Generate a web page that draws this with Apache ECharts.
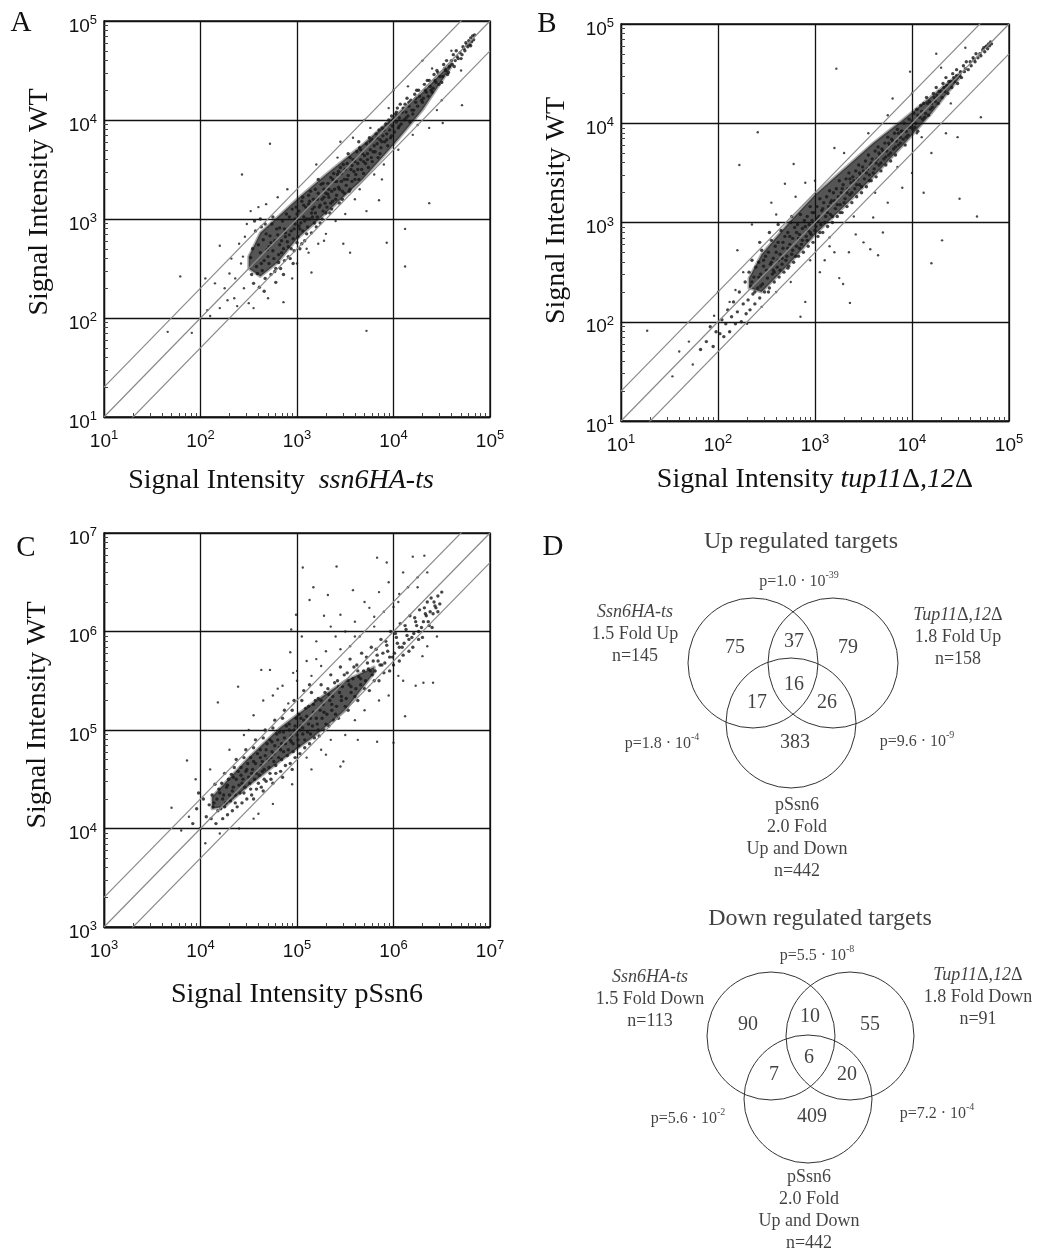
<!DOCTYPE html>
<html>
<head>
<meta charset="utf-8">
<script src="https://cdn.jsdelivr.net/npm/echarts@6/dist/echarts.min.js"></script>
<style>
  html, body { margin: 0; background: #fff; }
  #chart { width: 1037px; height: 1248px; }
</style>
</head>
<body>
<div id="chart"></div>
<script>
// scatter points as log10 values [x, y]
// core = the dense band along the diagonal, halo = the scattered dots around it
const coreA = [
    [2.52,2.61],[2.55,2.35],[2.57,2.88],[2.58,2.52],[2.6,2.74],[2.53,2.44],[2.56,2.98],
    [2.61,2.31],[2.62,2.66],[2.63,2.92],[2.64,2.48],[2.65,2.79],[2.66,2.58],[2.67,2.4],[2.68,2.85],[2.69,2.69],[2.62,3.0],[2.66,2.27],
    [2.71,2.55],[2.72,2.83],[2.73,2.44],[2.74,2.95],[2.75,2.68],[2.76,2.6],[2.77,2.78],[2.78,2.5],[2.79,2.9],[2.71,2.72],[2.75,3.02],[2.78,2.36],
    [2.81,2.64],[2.82,2.91],[2.83,2.5],[2.84,2.78],[2.85,2.98],[2.86,2.7],[2.87,2.58],[2.88,2.86],[2.89,3.05],[2.82,2.74],[2.86,2.44],[2.88,2.82],
    [2.91,2.72],[2.92,3.02],[2.93,2.6],[2.94,2.88],[2.95,3.1],[2.96,2.8],[2.97,2.68],[2.98,2.95],[2.99,3.12],[2.92,2.84],[2.96,2.55],[2.98,3.0],
    [3.01,2.82],[3.02,3.08],[3.03,2.7],[3.04,2.96],[3.05,3.18],[3.06,2.88],[3.07,3.02],[3.08,2.78],[3.09,3.12],[3.02,2.93],[3.06,3.22],[3.08,2.98],
    [3.11,2.92],[3.12,3.15],[3.13,3.0],[3.14,3.28],[3.15,2.86],[3.16,3.1],[3.17,3.2],[3.18,2.96],[3.19,3.06],[3.12,3.24],[3.16,3.02],[3.19,3.3],
    [3.21,3.02],[3.22,3.26],[3.23,3.12],[3.24,2.96],[3.25,3.35],[3.26,3.2],[3.27,3.08],[3.28,3.3],[3.29,3.16],[3.22,3.4],[3.26,3.0],[3.28,3.22],
    [3.31,3.12],[3.32,3.36],[3.33,3.22],[3.34,3.06],[3.35,3.42],[3.36,3.28],[3.37,3.18],[3.38,3.46],[3.39,3.3],[3.32,3.25],[3.36,3.1],[3.39,3.38],
    [3.41,3.24],[3.42,3.45],[3.43,3.32],[3.44,3.16],[3.45,3.52],[3.46,3.38],[3.47,3.28],[3.48,3.55],[3.49,3.4],[3.43,3.48],[3.47,3.2],
    [3.51,3.34],[3.52,3.56],[3.53,3.44],[3.54,3.28],[3.55,3.62],[3.56,3.5],[3.57,3.38],[3.58,3.6],[3.59,3.48],[3.53,3.66],
    [3.61,3.45],[3.62,3.68],[3.63,3.56],[3.64,3.4],[3.65,3.72],[3.66,3.6],[3.67,3.5],[3.68,3.66],[3.69,3.58],[3.64,3.78],
    [3.71,3.56],[3.72,3.76],[3.73,3.66],[3.74,3.52],[3.75,3.82],[3.76,3.7],[3.77,3.62],[3.78,3.8],[3.79,3.68],
    [3.81,3.68],[3.82,3.86],[3.83,3.76],[3.84,3.62],[3.85,3.9],[3.86,3.8],[3.87,3.72],[3.88,3.92],[3.89,3.84],
    [3.91,3.78],[3.92,3.96],[3.93,3.86],[3.94,3.74],[3.95,4.0],[3.96,3.9],[3.97,3.82],[3.98,4.04],[3.99,3.94],
    [4.01,3.88],[4.02,4.06],[4.03,3.98],[4.04,4.12],[4.05,3.92],[4.06,4.02],[4.07,4.16],[4.08,3.96],[4.09,4.08],
    [4.11,4.0],[4.12,4.16],[4.13,4.08],[4.14,4.22],[4.15,4.04],[4.16,4.14],[4.17,3.98],[4.18,4.2],[4.19,4.1],
    [4.21,4.1],[4.22,4.26],[4.23,4.18],[4.24,4.3],[4.25,4.14],[4.27,4.24],[4.29,4.2],
    [4.31,4.22],[4.32,4.36],[4.34,4.28],[4.35,4.4],[4.36,4.24],[4.38,4.34],[4.39,4.3],
    [4.41,4.32],[4.42,4.46],[4.44,4.38],[4.45,4.5],[4.47,4.36],[4.48,4.44],
    [4.51,4.44],[4.52,4.56],[4.54,4.5],[4.55,4.6],[4.57,4.48],[4.58,4.54],
    [4.61,4.56],[4.62,4.66],[4.64,4.6],[4.65,4.7],[4.67,4.62],[4.69,4.68],
    [4.71,4.66],[4.72,4.74],[4.74,4.7],[4.75,4.78],[4.77,4.74],[4.78,4.8],[4.79,4.76],[4.8,4.83],[4.81,4.79],[4.82,4.85],[4.83,4.81],[4.84,4.86],
    [2.54,2.7],[2.59,2.45],[2.63,2.55],[2.67,2.95],[2.7,2.62],[2.73,2.76],[2.77,2.47],[2.8,2.84],[2.81,2.56],[2.84,2.66],
    [2.87,2.9],[2.9,2.77],[2.91,2.62],[2.94,2.7],[2.97,2.9],[3.0,2.76],[3.0,3.05],[3.03,2.9],[3.05,2.75],[3.07,3.14],
    [3.1,2.85],[3.1,3.0],[3.13,3.18],[3.15,3.06],[3.18,3.12],[3.2,2.92],[3.21,3.2],[3.24,3.14],[3.27,3.36],[3.3,3.06],
    [3.3,3.26],[3.33,3.3],[3.35,3.16],[3.37,3.4],[3.4,3.2],[3.41,3.38],[3.44,3.3],[3.46,3.46],[3.49,3.26],[3.5,3.5],
    [3.52,3.4],[3.55,3.3],[3.57,3.54],[3.6,3.4],[3.6,3.58],[3.63,3.5],[3.66,3.7],[3.69,3.46],[3.7,3.64],[3.73,3.6],
    [3.76,3.78],[3.78,3.58],[3.8,3.74],[3.83,3.82],[3.86,3.66],[3.88,3.78],[3.9,3.9],[3.93,3.8],[3.96,3.96],[3.98,3.84],
    [4.0,4.0],[4.03,4.08],[4.06,3.94],[4.1,4.12],[4.13,4.02],[4.16,4.18],[4.2,4.06],[4.23,4.22],[4.26,4.3],[4.3,4.18],
    [4.33,4.3],[4.37,4.4],[4.4,4.28],[4.43,4.4],[4.46,4.48],[4.5,4.38],[4.53,4.52],[4.56,4.46],[4.6,4.6],[4.63,4.54],
    [4.66,4.64],[4.7,4.62],[4.73,4.72],[4.76,4.76],[4.8,4.75]
];
const haloA = [
    [2.3,2.45],[2.35,2.2],[2.4,2.75],[2.42,2.55],[2.45,2.3],[2.2,2.1],[2.25,2.3],[2.1,2.02],[2.15,2.35],[2.5,2.15],
    [2.48,2.95],[2.44,2.62],[2.38,2.12],[2.32,2.6],[2.05,2.4],[2.72,3.76],[2.43,3.45],[1.79,2.42],[1.66,1.86],[1.91,1.85],
    [3.72,1.87],[4.12,2.9],[4.12,2.52],[4.37,3.16],[4.71,4.15],[3.55,2.66],[3.93,2.76],[3.48,2.75],[3.15,2.46],[2.86,2.16],
    [2.07,2.08],[2.2,2.73],[4.51,3.97],[4.37,3.92],[3.85,3.19],[3.72,3.08],[2.6,3.12],[2.9,3.3],[3.2,3.55],[3.45,3.78],
    [3.7,4.0],[4.0,4.3],[4.3,4.6],[3.1,2.7],[3.4,2.98],[3.6,3.2],[3.9,3.55],[4.2,3.85],[4.5,4.2],[4.7,4.5],
    [2.55,2.1],[2.7,2.2],[3.0,2.55],[3.3,2.85],[3.65,3.3],[3.8,3.45],[2.46,2.82],[2.36,2.4],[2.28,2.18],[2.52,3.08],
    [2.68,3.15],[2.8,3.22],[2.95,2.4],[3.12,2.66],[3.28,2.78],[3.42,3.62],[3.58,3.82],[3.76,3.92],[3.95,4.12],[4.15,4.34],
    [4.4,4.52],[4.6,4.7],[4.45,4.1],[4.25,3.95],[4.05,3.7],[3.88,3.4],[3.5,3.05],[3.22,2.75]
];

const coreB = [
    [1.82,1.72],[1.88,1.8],[1.92,1.95],[1.95,1.75],[1.98,1.9],[2.02,1.88],[2.04,2.02],[2.06,1.85],[2.08,1.98],[2.1,2.12],
    [2.12,1.9],[2.14,2.05],[2.16,2.2],[2.18,1.98],[2.2,2.1],[2.22,2.3],[2.24,2.0],[2.26,2.18],[2.28,2.4],[2.29,2.08],
    [2.31,2.22],[2.32,2.5],[2.33,2.12],[2.34,2.36],[2.35,2.62],[2.36,2.28],[2.37,2.45],[2.38,2.18],[2.39,2.55],
    [2.41,2.34],[2.42,2.6],[2.43,2.24],[2.44,2.48],[2.45,2.72],[2.46,2.38],[2.47,2.56],[2.48,2.3],[2.49,2.66],[2.43,2.8],
    [2.51,2.44],[2.52,2.7],[2.53,2.34],[2.54,2.58],[2.55,2.82],[2.56,2.48],[2.57,2.64],[2.58,2.4],[2.59,2.76],[2.53,2.9],[2.57,2.52],
    [2.61,2.55],[2.62,2.8],[2.63,2.45],[2.64,2.68],[2.65,2.92],[2.66,2.58],[2.67,2.74],[2.68,2.5],[2.69,2.86],[2.62,2.98],[2.66,2.64],
    [2.71,2.66],[2.72,2.9],[2.73,2.56],[2.74,2.78],[2.75,3.0],[2.76,2.68],[2.77,2.84],[2.78,2.6],[2.79,2.95],[2.72,2.74],[2.76,3.06],
    [2.81,2.76],[2.82,2.98],[2.83,2.66],[2.84,2.88],[2.85,3.08],[2.86,2.78],[2.87,2.94],[2.88,2.7],[2.89,3.02],[2.83,2.84],
    [2.91,2.86],[2.92,3.06],[2.93,2.76],[2.94,2.98],[2.95,3.16],[2.96,2.88],[2.97,3.02],[2.98,2.8],[2.99,3.1],[2.93,2.92],
    [3.01,2.96],[3.02,3.16],[3.03,2.86],[3.04,3.06],[3.05,3.24],[3.06,2.98],[3.07,3.12],[3.08,2.9],[3.09,3.2],[3.03,3.02],
    [3.11,3.06],[3.12,3.26],[3.13,2.96],[3.14,3.16],[3.15,3.32],[3.16,3.08],[3.17,3.22],[3.18,3.0],[3.19,3.3],
    [3.21,3.14],[3.22,3.34],[3.23,3.06],[3.24,3.26],[3.25,3.42],[3.26,3.18],[3.27,3.3],[3.28,3.1],[3.29,3.38],
    [3.31,3.24],[3.32,3.44],[3.33,3.16],[3.34,3.34],[3.35,3.5],[3.36,3.28],[3.37,3.4],[3.38,3.2],[3.39,3.46],
    [3.41,3.34],[3.42,3.52],[3.43,3.26],[3.44,3.44],[3.45,3.58],[3.46,3.38],[3.47,3.48],[3.48,3.3],[3.49,3.56],
    [3.51,3.44],[3.52,3.62],[3.53,3.36],[3.54,3.54],[3.55,3.68],[3.56,3.48],[3.57,3.58],[3.58,3.42],[3.59,3.64],
    [3.61,3.54],[3.62,3.72],[3.63,3.46],[3.64,3.64],[3.65,3.76],[3.66,3.58],[3.67,3.68],[3.68,3.52],[3.69,3.74],
    [3.71,3.64],[3.72,3.8],[3.73,3.58],[3.74,3.72],[3.75,3.86],[3.76,3.68],[3.77,3.78],[3.78,3.62],[3.79,3.84],
    [3.81,3.74],[3.82,3.9],[3.83,3.68],[3.84,3.82],[3.85,3.94],[3.86,3.78],[3.88,3.86],[3.89,3.92],
    [3.91,3.84],[3.92,4.0],[3.93,3.78],[3.94,3.92],[3.96,3.88],[3.97,4.04],[3.99,3.96],
    [4.01,3.94],[4.02,4.1],[4.04,4.0],[4.05,4.14],[4.06,3.92],[4.08,4.06],[4.09,4.18],
    [4.11,4.04],[4.12,4.2],[4.14,4.1],[4.15,4.26],[4.17,4.08],[4.18,4.22],[4.19,4.14],
    [4.21,4.16],[4.22,4.3],[4.24,4.22],[4.25,4.36],[4.27,4.2],[4.28,4.32],
    [4.31,4.26],[4.32,4.4],[4.34,4.32],[4.35,4.46],[4.37,4.3],[4.38,4.42],
    [4.41,4.36],[4.42,4.5],[4.44,4.42],[4.46,4.54],[4.47,4.4],[4.49,4.48],
    [4.51,4.46],[4.53,4.58],[4.54,4.52],[4.56,4.62],[4.58,4.54],
    [4.61,4.58],[4.63,4.66],[4.65,4.62],[4.66,4.7],[4.68,4.66],
    [4.71,4.68],[4.73,4.74],[4.75,4.72],[4.76,4.77],[4.78,4.75],[4.79,4.8],[4.8,4.78],[4.81,4.82],[4.82,4.8],
    [2.35,2.4],[2.38,2.3],[2.42,2.45],[2.44,2.36],[2.47,2.62],[2.5,2.52],[2.52,2.3],[2.55,2.6],[2.58,2.5],[2.6,2.7],
    [2.62,2.62],[2.64,2.52],[2.67,2.8],[2.7,2.62],[2.72,2.54],[2.74,2.86],[2.77,2.72],[2.8,2.66],[2.81,2.9],[2.84,2.74],
    [2.87,2.82],[2.9,2.96],[2.92,2.82],[2.95,2.9],[2.97,3.1],[3.0,2.92],[3.02,3.04],[3.05,2.9],[3.08,3.14],[3.1,3.0],
    [3.13,3.1],[3.16,3.2],[3.18,3.06],[3.2,3.22],[3.23,3.18],[3.26,3.1],[3.28,3.34],[3.3,3.2],[3.33,3.3],[3.36,3.44],
    [3.38,3.3],[3.4,3.42],[3.43,3.38],[3.46,3.5],[3.48,3.36],[3.5,3.52],[3.53,3.5],[3.56,3.42],[3.58,3.6],[3.6,3.5],
    [3.63,3.6],[3.66,3.7],[3.68,3.6],[3.7,3.72],[3.73,3.66],[3.76,3.8],[3.78,3.7],[3.8,3.82],[3.83,3.76],[3.86,3.9],
    [3.88,3.8],[3.9,3.92],[3.94,3.86],[3.97,3.96],[4.0,4.02],[4.03,3.96],[4.06,4.08],[4.1,4.12],[4.13,4.06],[4.16,4.2],
    [4.2,4.2],[4.23,4.26],[4.26,4.28],[4.3,4.32],[4.33,4.36],[4.36,4.38],[4.4,4.42],[4.43,4.46],[4.46,4.48],[4.5,4.52],
    [4.55,4.55],[4.6,4.62],[4.64,4.64],[4.7,4.7],[4.74,4.76],[4.77,4.78]
];
const haloB = [
    [1.27,1.91],[1.53,1.45],[1.74,1.57],[1.6,1.7],[1.7,1.8],[3.22,4.55],[2.41,3.91],[2.22,3.58],[2.78,3.59],[2.69,3.39],
    [3.98,4.52],[4.12,3.3],[4.49,3.24],[4.67,3.06],[4.31,2.82],[4.2,2.59],[3.36,2.19],[3.29,2.38],[3.25,2.44],[3.65,2.67],
    [3.57,2.73],[4.71,4.06],[4.47,3.86],[3.1,2.62],[3.2,2.7],[3.42,2.88],[3.5,2.8],[3.05,2.5],[3.6,3.05],[3.75,3.2],
    [3.9,3.35],[4.0,3.5],[4.2,3.7],[4.35,3.9],[2.55,3.2],[2.35,2.98],[2.2,2.72],[2.0,2.3],[2.9,2.2],[2.85,2.05],
    [3.15,2.85],[3.35,2.7],[3.7,2.9],[4.05,3.9],[4.25,4.7],[3.8,4.25],[3.2,3.75],[2.9,3.4],[2.26,2.5],[2.18,2.32],
    [2.12,2.2],[1.96,2.06],[2.3,1.98],[2.45,2.15],[2.6,2.3],[2.75,2.4],[2.95,2.62],[3.15,2.76],[3.4,3.06],[3.62,3.3],
    [3.85,3.56],[4.1,3.86],[4.4,4.2],[2.6,3.08],[2.8,3.26],[3.0,3.42],[3.3,3.7],[3.55,3.9],[3.75,4.08],[4.0,4.3],
    [4.3,4.56],[4.55,4.76]
];

const coreC = [
    [3.92,4.05],[3.96,4.2],[4.0,4.0],[4.03,4.3],[4.06,4.12],[4.09,4.24],[3.98,4.36],
    [4.11,4.1],[4.12,4.34],[4.13,4.22],[4.15,4.45],[4.16,4.05],[4.17,4.3],[4.18,4.18],[4.19,4.4],
    [4.21,4.2],[4.22,4.46],[4.23,4.1],[4.24,4.34],[4.25,4.56],[4.26,4.26],[4.27,4.42],[4.28,4.14],[4.29,4.5],[4.23,4.3],
    [4.31,4.28],[4.32,4.55],[4.33,4.18],[4.34,4.42],[4.35,4.62],[4.36,4.34],[4.37,4.5],[4.38,4.22],[4.39,4.58],[4.33,4.38],[4.37,4.7],
    [4.41,4.36],[4.42,4.62],[4.43,4.26],[4.44,4.5],[4.45,4.72],[4.46,4.42],[4.47,4.58],[4.48,4.3],[4.49,4.66],[4.43,4.46],[4.47,4.8],
    [4.51,4.46],[4.52,4.72],[4.53,4.34],[4.54,4.6],[4.55,4.82],[4.56,4.5],[4.57,4.66],[4.58,4.4],[4.59,4.76],[4.53,4.56],[4.57,4.9],[4.55,4.3],
    [4.61,4.54],[4.62,4.8],[4.63,4.42],[4.64,4.68],[4.65,4.92],[4.66,4.6],[4.67,4.74],[4.68,4.48],[4.69,4.86],[4.63,4.64],[4.67,5.0],[4.65,4.38],
    [4.71,4.62],[4.72,4.9],[4.73,4.5],[4.74,4.78],[4.75,5.02],[4.76,4.68],[4.77,4.84],[4.78,4.56],[4.79,4.96],[4.73,4.72],[4.77,5.1],[4.75,4.46],
    [4.81,4.72],[4.82,4.98],[4.83,4.58],[4.84,4.86],[4.85,5.12],[4.86,4.78],[4.87,4.92],[4.88,4.64],[4.89,5.04],[4.83,4.8],[4.87,5.2],[4.85,4.52],
    [4.91,4.8],[4.92,5.06],[4.93,4.66],[4.94,4.94],[4.95,5.2],[4.96,4.86],[4.97,5.0],[4.98,4.72],[4.99,5.12],[4.93,4.9],[4.97,5.3],[4.95,4.6],
    [5.01,4.9],[5.02,5.16],[5.03,4.76],[5.04,5.04],[5.05,5.3],[5.06,4.96],[5.07,5.1],[5.08,4.82],[5.09,5.22],[5.03,5.0],[5.07,5.4],
    [5.11,4.98],[5.12,5.24],[5.13,4.86],[5.14,5.12],[5.15,5.38],[5.16,5.04],[5.17,5.18],[5.18,4.92],[5.19,5.3],[5.13,5.46],
    [5.21,5.06],[5.22,5.32],[5.23,4.94],[5.24,5.2],[5.25,5.46],[5.26,5.12],[5.27,5.26],[5.28,5.0],[5.29,5.38],
    [5.31,5.16],[5.32,5.42],[5.33,5.04],[5.34,5.3],[5.35,5.56],[5.36,5.2],[5.37,5.34],[5.38,5.1],[5.39,5.48],
    [5.41,5.24],[5.42,5.5],[5.43,5.12],[5.44,5.38],[5.45,5.64],[5.46,5.3],[5.47,5.44],[5.49,5.56],
    [5.51,5.32],[5.52,5.58],[5.53,5.2],[5.54,5.46],[5.55,5.72],[5.56,5.38],[5.58,5.52],[5.59,5.64],
    [5.61,5.42],[5.62,5.66],[5.63,5.3],[5.64,5.54],[5.66,5.46],[5.67,5.78],[5.69,5.6],
    [5.71,5.5],[5.72,5.74],[5.74,5.62],[5.75,5.4],[5.77,5.84],[5.78,5.56],[5.79,5.7],
    [5.81,5.6],[5.82,5.82],[5.84,5.7],[5.85,5.5],[5.87,5.92],[5.88,5.66],[5.89,5.78],
    [5.91,5.68],[5.92,5.9],[5.94,5.8],[5.96,5.6],[5.97,6.0],[5.99,5.74],
    [6.01,5.78],[6.02,5.98],[6.04,5.88],[6.06,5.7],[6.07,6.08],[6.09,5.84],
    [6.11,5.88],[6.12,6.06],[6.14,5.96],[6.16,5.8],[6.17,6.16],[6.19,5.94],
    [6.21,5.98],[6.22,6.14],[6.24,6.06],[6.26,5.92],[6.27,6.22],[6.29,6.04],
    [6.31,6.1],[6.32,6.24],[6.34,6.16],[6.35,6.3],[6.37,6.06],[6.38,6.2],[6.39,6.34],
    [6.41,6.18],[6.42,6.3],[6.44,6.24],[6.46,6.36],[6.48,6.28],[6.5,6.4],
    [4.14,4.26],[4.2,4.36],[4.25,4.22],[4.28,4.44],[4.3,4.34],[4.34,4.52],[4.36,4.26],[4.4,4.44],[4.42,4.54],[4.45,4.36],
    [4.48,4.6],[4.5,4.52],[4.52,4.4],[4.55,4.68],[4.58,4.56],[4.6,4.46],[4.62,4.72],[4.64,4.58],[4.66,4.5],[4.68,4.8],
    [4.7,4.7],[4.72,4.56],[4.74,4.88],[4.76,4.76],[4.78,4.64],[4.8,4.9],[4.82,4.82],[4.84,4.7],[4.86,4.98],[4.88,4.86],
    [4.9,4.74],[4.92,5.0],[4.94,4.88],[4.96,4.78],[4.98,5.04],[5.0,4.95],[5.02,4.84],[5.04,5.12],[5.06,5.02],[5.08,4.9],
    [5.1,5.14],[5.12,5.06],[5.14,4.96],[5.17,5.26],[5.2,5.12],[5.22,5.0],[5.25,5.3],[5.28,5.18],[5.3,5.06],[5.33,5.36],
    [5.36,5.26],[5.4,5.16],[5.43,5.44],[5.46,5.34],[5.5,5.24],[5.53,5.5],[5.56,5.44],[5.6,5.34],[5.63,5.6],[5.66,5.52],
    [5.7,5.42],[5.73,5.68],[5.76,5.6],[5.8,5.5],[5.83,5.76],[5.86,5.66],[5.9,5.58],[5.93,5.86],[5.96,5.74],[6.0,5.66],
    [6.03,5.94],[6.06,5.84],[6.1,5.76],[6.13,6.02],[6.16,5.92],[6.2,5.84],[6.23,6.1],[6.26,6.0],[6.3,5.94],[6.33,6.18],
    [6.36,6.1],[6.4,6.04],[6.43,6.26],[6.46,6.2]
];
const haloC = [
    [5.06,6.65],[5.41,6.66],[5.83,6.75],[5.93,6.7],[6.2,6.76],[6.32,6.77],[5.17,6.45],[5.13,6.32],[5.32,6.37],[5.58,6.42],
    [5.75,6.24],[6.06,6.38],[5.28,6.16],[5.45,6.17],[4.99,6.17],[4.93,5.79],[4.96,5.58],[4.91,5.27],[4.72,5.61],[4.63,5.61],
    [4.39,5.44],[4.18,5.28],[3.86,4.69],[3.7,4.21],[5.1,5.7],[5.2,5.9],[5.3,5.8],[5.5,6.0],[5.6,6.1],[5.7,6.3],
    [5.85,6.4],[5.95,6.5],[6.1,6.6],[6.15,6.45],[5.4,5.95],[5.15,5.55],[5.0,5.5],[4.85,5.45],[5.25,5.65],[5.55,5.85],
    [5.65,5.95],[5.8,6.05],[5.9,6.2],[6.0,6.25],[6.25,6.55],[6.35,6.6],[4.55,5.15],[4.75,5.35],[4.45,4.95],[5.35,6.05],
    [5.05,5.95],[4.94,6.02],[6.31,5.48],[6.41,5.48],[6.12,5.14],[6.23,5.45],[5.83,4.88],[5.45,4.63],[5.48,4.68],[5.63,4.9],
    [6.0,4.87],[5.3,4.75],[5.15,4.6],[4.95,4.45],[4.75,4.25],[4.55,4.1],[5.7,5.2],[5.95,5.35],[6.05,5.55],[6.3,5.75],
    [6.45,5.95],[5.5,4.95],[5.25,4.8],[4.6,4.15],[4.4,4.0],[4.2,3.95],[4.05,3.85],[4.65,5.3],[4.8,5.42],[5.0,5.6],
    [5.2,5.72],[5.45,5.82],[5.6,5.95],[5.8,6.15],[6.05,6.3],[6.25,6.45],[4.3,4.8],[4.5,5.0],[5.1,4.72],[5.35,4.9],
    [5.6,5.1],[5.85,5.3],[6.1,5.5],[6.35,5.85],[3.95,4.5],[4.1,4.6],[3.8,3.98],[3.88,4.12]
];

// where the dots merge into a dark mass (log10): x, lower y, upper y
const denseAX = [2.5, 2.62, 2.8, 3.0, 3.3, 3.68, 4.0, 4.3, 4.6];
const denseALo = [2.5, 2.42, 2.56, 2.8, 3.06, 3.4, 3.75, 4.1, 4.54];
const denseAHi = [2.62, 2.86, 3.02, 3.2, 3.45, 3.75, 4.03, 4.28, 4.58];
const denseBX = [2.32, 2.45, 2.75, 3.0, 3.3, 3.6, 3.9, 4.2, 4.5];
const denseBLo = [2.34, 2.3, 2.6, 2.88, 3.16, 3.46, 3.77, 4.1, 4.47];
const denseBHi = [2.44, 2.68, 3.02, 3.28, 3.54, 3.8, 4.03, 4.27, 4.51];
const denseCX = [4.12, 4.25, 4.48, 4.82, 5.17, 5.5, 5.8];
const denseCLo = [4.2, 4.22, 4.42, 4.68, 4.93, 5.2, 5.58];
const denseCHi = [4.32, 4.46, 4.7, 5.02, 5.28, 5.5, 5.64];

// axis ranges and fold-change guide lines (WT = ratio * mutant)
const rangeAB = [1e1, 1e5];
const rangeC = [1e3, 1e7];
const foldRatios = [2, 1, 0.5];

// Venn diagram numbers
const vennUpCounts = [75, 37, 79, 17, 16, 26, 383];
const vennDownCounts = [90, 10, 55, 7, 6, 20, 409];
const vennUpSets = [['Ssn6HA-ts', '1.5 Fold Up', 145], ['Tup11Δ,12Δ', '1.8 Fold Up', 158], ['pSsn6', '2.0 Fold', 442]];
const vennDownSets = [['Ssn6HA-ts', '1.5 Fold Down', 113], ['Tup11Δ,12Δ', '1.8 Fold Down', 91], ['pSsn6', '2.0 Fold', 442]];
const vennUpP = [['1.0', '-39'], ['1.8', '-4'], ['9.6', '-9']];
const vennDownP = [['5.5', '-8'], ['5.6', '-2'], ['7.2', '-4']];

const SERIF = 'Liberation Serif';
const SANS = 'Liberation Sans';
const INK = '#111';

var chart = echarts.init(document.getElementById('chart'));

function toLinear(points) {
    return points.map(([lx, ly]) => [Math.pow(10, lx), Math.pow(10, ly)]);
}

function foldLine(range, r) {
    return [[range[0], range[0] * r], [range[1], range[1] * r]];
}

const tickRich = {
    b: { fontFamily: SANS, fontSize: 19, lineHeight: 22, verticalAlign: 'bottom', color: INK },
    s: { fontFamily: SANS, fontSize: 13, lineHeight: 6, verticalAlign: 'top', color: INK }
};

function logAxis(gridIndex, range, isX, name, nameGap, namePad) {
    return {
        type: 'log',
        logBase: 10,
        gridIndex: gridIndex,
        min: range[0],
        max: range[1],
        splitNumber: 4,
        name: name,
        nameLocation: 'middle',
        nameGap: nameGap,
        nameTextStyle: {
            fontFamily: SERIF, fontSize: 28, color: INK, padding: namePad,
            rich: {
                n: { fontFamily: SERIF, fontSize: 28, color: INK },
                i: { fontFamily: SERIF, fontSize: 28, fontStyle: 'italic', color: INK }
            }
        },
        axisLine: { show: true, lineStyle: { color: INK, width: 1.3 } },
        axisTick: { show: true, inside: true, length: 5, lineStyle: { color: INK } },
        minorTick: { show: true, splitNumber: 9, length: 4, lineStyle: { color: '#444' } },
        splitLine: { show: true, lineStyle: { color: INK, width: 1.3 } },
        axisLabel: {
            margin: isX ? 12 : 7,
            padding: isX ? 0 : [8, 0, 0, 0],
            formatter: v => '{b|10}{s|' + Math.round(Math.log10(v)) + '}',
            rich: tickRich
        }
    };
}

const grids = [
    { left: 104, top: 21, width: 386, height: 396 },
    { left: 621, top: 24, width: 388, height: 397 },
    { left: 104, top: 533, width: 386, height: 394 },
    { left: 0, top: 0, width: 1037, height: 1248 }
].map(g => Object.assign({ show: true, borderColor: INK, borderWidth: 1.3 }, g));
grids[3].show = false;

// hidden page-space axes for the Venn diagrams
const vennX = { type: 'value', gridIndex: 3, min: 0, max: 1037, show: false };
const vennY = { type: 'value', gridIndex: 3, min: 0, max: 1248, inverse: true, show: false };

function scatterSeries(idx, points, size, color) {
    return {
        type: 'scatter',
        xAxisIndex: idx, yAxisIndex: idx,
        symbolSize: size,
        itemStyle: { color: color },
        data: toLinear(points),
        z: 3
    };
}

// dark core of the cloud, as a band between two edges on the log scales
function denseSeries(idx, xs, lo, hi) {
    return {
        type: 'custom',
        xAxisIndex: idx, yAxisIndex: idx,
        clip: true,
        z: 2,
        renderItem: function (params, api) {
            const upper = xs.map((x, i) => api.coord([Math.pow(10, x), Math.pow(10, hi[i])]));
            const lower = xs.map((x, i) => api.coord([Math.pow(10, x), Math.pow(10, lo[i])])).reverse();
            return {
                type: 'polygon',
                shape: { points: upper.concat(lower) },
                style: { fill: 'rgba(20,20,20,0.72)', stroke: 'rgba(20,20,20,0.35)', lineWidth: 3, lineJoin: 'round' }
            };
        },
        data: [[Math.pow(10, xs[0]), Math.pow(10, lo[0])]]
    };
}

function foldSeries(idx, range) {
    return foldRatios.map(r => ({
        type: 'line',
        xAxisIndex: idx, yAxisIndex: idx,
        showSymbol: false,
        clip: true,
        lineStyle: { color: '#8a8a8a', width: 1.2 },
        data: foldLine(range, r),
        z: 4
    }));
}

// Venn layout (page coordinates)
const vennUpCircles = [[753, 663, 65], [833, 663, 65], [791, 723, 65]];
const vennDownCircles = [[771, 1036, 64], [850, 1036, 64], [808, 1099, 64]];
const vennUpCountPos = [[735, 648], [794, 642], [848, 648], [757, 703], [794, 685], [827, 703], [795, 743]];
const vennDownCountPos = [[748, 1025], [810, 1017], [870, 1025], [774, 1075], [809, 1058], [847, 1075], [812, 1117]];
const vennUpSetPos = [[635, 634], [958, 637], [797, 838]];
const vennDownSetPos = [[650, 999], [978, 997], [809, 1210]];
const vennUpPPos = [[799, 580], [662, 742], [917, 740]];
const vennDownPPos = [[817, 954], [688, 1117], [937, 1112]];
const vennTitles = [['Up regulated targets', 801, 542], ['Down regulated targets', 820, 919]];

const circleSeries = {
    type: 'custom',
    xAxisIndex: 3, yAxisIndex: 3,
    renderItem: function (params, api) {
        const c = api.coord([api.value(0), api.value(1)]);
        const r = api.size([api.value(2), 0])[0];
        return {
            type: 'circle',
            shape: { cx: c[0], cy: c[1], r: r },
            style: { fill: 'none', stroke: '#333', lineWidth: 1 }
        };
    },
    data: vennUpCircles.concat(vennDownCircles)
};

function textItem(pos, text) {
    return { value: pos, label: { formatter: text } };
}

// gene names italic, the Δ signs upright
function nameTokens(name) {
    return '{it|' + name.split('Δ').join('}{r|Δ}{it|') + '}';
}

function setText(set, i) {
    const head = i === 2 ? '{r|' + set[0] + '}' : nameTokens(set[0]);
    const lines = [head, '{r|' + set[1] + '}'];
    if (i === 2) lines.push('{r|Up and Down}');
    lines.push('{r|n=' + set[2] + '}');
    return lines.join('\n');
}

function pText(p) {
    return '{p|p=' + p[0] + ' · 10}{ps|' + p[1] + '}';
}

const vennTextData = [];
vennUpCounts.forEach((c, i) => vennTextData.push(textItem(vennUpCountPos[i], '{c|' + c + '}')));
vennDownCounts.forEach((c, i) => vennTextData.push(textItem(vennDownCountPos[i], '{c|' + c + '}')));
vennUpSets.forEach((s, i) => vennTextData.push(textItem(vennUpSetPos[i], setText(s, i))));
vennDownSets.forEach((s, i) => vennTextData.push(textItem(vennDownSetPos[i], setText(s, i))));
vennUpP.forEach((p, i) => vennTextData.push(textItem(vennUpPPos[i], pText(p))));
vennDownP.forEach((p, i) => vennTextData.push(textItem(vennDownPPos[i], pText(p))));
vennTitles.forEach(t => vennTextData.push(textItem([t[1], t[2]], '{t|' + t[0] + '}')));

const vennTextSeries = {
    type: 'scatter',
    xAxisIndex: 3, yAxisIndex: 3,
    symbolSize: 1,
    itemStyle: { color: 'rgba(0,0,0,0)' },
    label: {
        show: true,
        position: 'inside',
        align: 'center',
        verticalAlign: 'middle',
        rich: {
            c: { fontFamily: SERIF, fontSize: 20, color: INK },
            r: { fontFamily: SERIF, fontSize: 18, lineHeight: 22, color: INK },
            it: { fontFamily: SERIF, fontSize: 18, lineHeight: 22, fontStyle: 'italic', color: INK },
            p: { fontFamily: SERIF, fontSize: 16, lineHeight: 20, verticalAlign: 'bottom', color: INK },
            ps: { fontFamily: SERIF, fontSize: 10, lineHeight: 6, verticalAlign: 'top', color: INK },
            t: { fontFamily: SERIF, fontSize: 24, color: INK }
        }
    },
    data: vennTextData,
    z: 5
};

const panelLetters = [['A', 21, 23], ['B', 547, 24], ['C', 26, 548], ['D', 553, 547]];

var option = {
    animation: false,
    backgroundColor: '#fff',
    grid: grids,
    xAxis: [
        logAxis(0, rangeAB, true, '{n|Signal Intensity  }{i|ssn6HA-ts}', 50, [0, 32, 0, 0]),
        logAxis(1, rangeAB, true, '{n|Signal Intensity }{i|tup11}{n|Δ}{i|,12}{n|Δ}', 45, 0),
        logAxis(2, rangeC, true, 'Signal Intensity pSsn6', 54, 0),
        vennX
    ],
    yAxis: [
        logAxis(0, rangeAB, false, 'Signal Intensity WT', 50, [0, 0, 0, 34]),
        logAxis(1, rangeAB, false, 'Signal Intensity WT', 50, [0, 0, 0, 24]),
        logAxis(2, rangeC, false, 'Signal Intensity WT', 52, [0, 0, 0, 30]),
        vennY
    ],
    graphic: panelLetters.map(([t, x, y]) => ({
        type: 'text',
        x: x, y: y,
        style: { text: t, fontFamily: SERIF, fontSize: 29, fill: INK, align: 'center', verticalAlign: 'middle' }
    })),
    series: [
        denseSeries(0, denseAX, denseALo, denseAHi),
        denseSeries(1, denseBX, denseBLo, denseBHi),
        denseSeries(2, denseCX, denseCLo, denseCHi),
        scatterSeries(0, coreA, 3.4, '#161616'),
        scatterSeries(0, haloA, 2.4, '#1a1a1a'),
        scatterSeries(1, coreB, 3.4, '#161616'),
        scatterSeries(1, haloB, 2.4, '#1a1a1a'),
        scatterSeries(2, coreC, 3.4, '#161616'),
        scatterSeries(2, haloC, 2.4, '#1a1a1a'),
        ...foldSeries(0, rangeAB),
        ...foldSeries(1, rangeAB),
        ...foldSeries(2, rangeC),
        circleSeries,
        vennTextSeries
    ]
};

option && chart.setOption(option);
</script>
</body>
</html>
